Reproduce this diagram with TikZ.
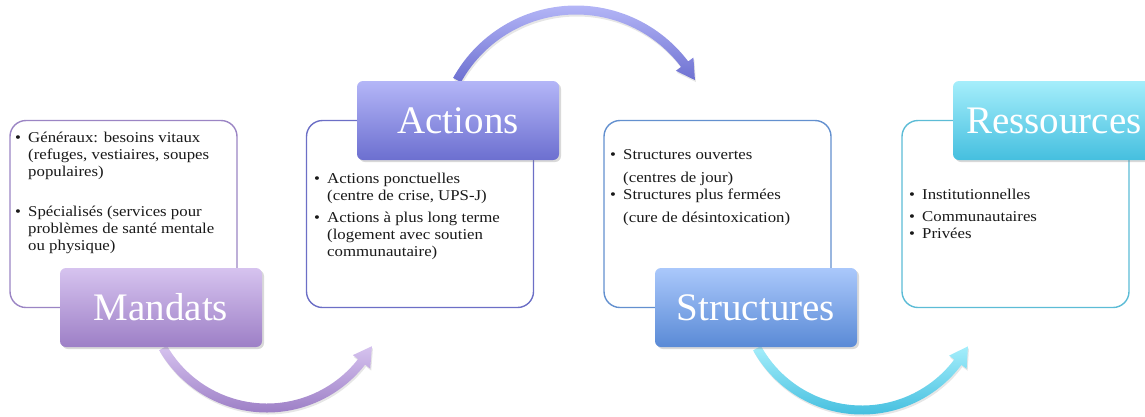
\documentclass[tikz,border=0pt]{standalone}
\usepackage{fontspec}
\setmainfont{Liberation Serif}
\newfontfamily\bodyfont[FakeStretch=1.12]{Liberation Serif}
\usetikzlibrary{calc,shadows}

\definecolor{mandline}{HTML}{9B85C4}
\definecolor{mandtop}{HTML}{D6C3EF}
\definecolor{mandbot}{HTML}{9D7FC6}
\definecolor{actline}{HTML}{6C6FC6}
\definecolor{acttop}{HTML}{B4B6F7}
\definecolor{actbot}{HTML}{6C6FD0}
\definecolor{strline}{HTML}{6390CF}
\definecolor{strtop}{HTML}{AAC8FB}
\definecolor{strbot}{HTML}{5A8AD6}
\definecolor{resline}{HTML}{5CBCD6}
\definecolor{restop}{HTML}{A5EEFB}
\definecolor{resbot}{HTML}{45BFDF}

\newcommand\bul{\makebox[13pt][l]{\textbullet}}

\begin{document}
\begin{tikzpicture}[x=1pt,y=-1pt,
  panel/.style={draw, line width=1.4pt, rounded corners=16pt, fill=white,
    minimum width=227pt, minimum height=187pt, inner sep=0pt},
  title/.style={rounded corners=6pt, minimum width=202pt, minimum height=79pt,
    inner sep=0pt, text=white, font=\fontsize{39}{44}\selectfont,
    drop shadow={opacity=.3, shadow xshift=2pt, shadow yshift=-2pt}},
  items/.style={anchor=base west, inner sep=0pt, text=black!90,
    font=\bodyfont\fontsize{15}{17}\selectfont},
  bow/.style={drop shadow={opacity=.2, shadow xshift=1pt, shadow yshift=-2pt}}
]
    \useasboundingbox (0,0) rectangle (1145,416);

    % boxes
    \node[panel, draw=mandline] (pmand) at (123.5,214) {};
    \node[panel, draw=actline]  (pact)  at (420,214) {};
    \node[panel, draw=strline]  (pstr)  at (717.5,214) {};
    \node[panel, draw=resline]  (pres)  at (1015.5,214) {};

    \node[items] (lmand) at (15,142) {\begin{tabular}[t]{@{}l@{}l@{}}
      \bul & Généraux: besoins vitaux\\
           & (refuges, vestiaires, soupes\\
           & populaires)\\[23pt]
      \bul & Spécialisés (services pour\\
           & problèmes de santé mentale\\
           & ou physique)
    \end{tabular}};
    \node[items] (lact) at (314,183) {\begin{tabular}[t]{@{}l@{}l@{}}
      \bul & Actions ponctuelles\\
           & (centre de crise, UPS-J)\\[5pt]
      \bul & Actions à plus long terme\\
           & (logement avec soutien\\
           & communautaire)
    \end{tabular}};
    \node[items] (lstr) at (610,159) {\begin{tabular}[t]{@{}l@{}l@{}}
      \bul & Structures ouvertes\\[6pt]
           & (centres de jour)\\
      \bul & Structures plus fermées\\[6pt]
           & (cure de désintoxication)
    \end{tabular}};
    \node[items] (lres) at (909,199) {\begin{tabular}[t]{@{}l@{}l@{}}
      \bul & Institutionnelles\\[5pt]
      \bul & Communautaires\\
      \bul & Privées
    \end{tabular}};

    % curved arrows
    \coordinate (c1) at (267,288);
    \coordinate (c2) at (576,146);
    \coordinate (c3) at (862,290);
    \shade[bow, top color=mandtop, bottom color=mandbot]
      ($(c1)+(150:124.5)$) arc[start angle=150, end angle=38, radius=124.5]
      -- ($(c1)+(38:131)$) -- ($(c1)+(29:120)$) -- ($(c1)+(38:109)$)
      -- ($(c1)+(38:115.5)$) arc[start angle=38, end angle=150, radius=115.5] -- cycle;
    \shade[bow, top color=acttop, bottom color=actbot]
      ($(c2)+(209:140.5)$) arc[start angle=209, end angle=323, radius=140.5]
      -- ($(c2)+(323:147)$) -- ($(c2)+(331:136)$) -- ($(c2)+(323:125)$)
      -- ($(c2)+(323:131.5)$) arc[start angle=323, end angle=209, radius=131.5] -- cycle;
    \shade[bow, top color=restop, bottom color=resbot]
      ($(c3)+(151:124.5)$) arc[start angle=151, end angle=37, radius=124.5]
      -- ($(c3)+(37:131)$) -- ($(c3)+(28:120)$) -- ($(c3)+(37:109)$)
      -- ($(c3)+(37:115.5)$) arc[start angle=37, end angle=151, radius=115.5] -- cycle;

    % titles
    \node[title, top color=mandtop, bottom color=mandbot] (tmand) at (161,307.5) {Mandats};
    \node[title, top color=acttop, bottom color=actbot]   (tact)  at (458,120.5) {Actions};
    \node[title, top color=strtop, bottom color=strbot]   (tstr)  at (756,307.5) {Structures};
    \node[title, top color=restop, bottom color=resbot]   (tres)  at (1054,120.5) {Ressources};
\end{tikzpicture}
\end{document}
